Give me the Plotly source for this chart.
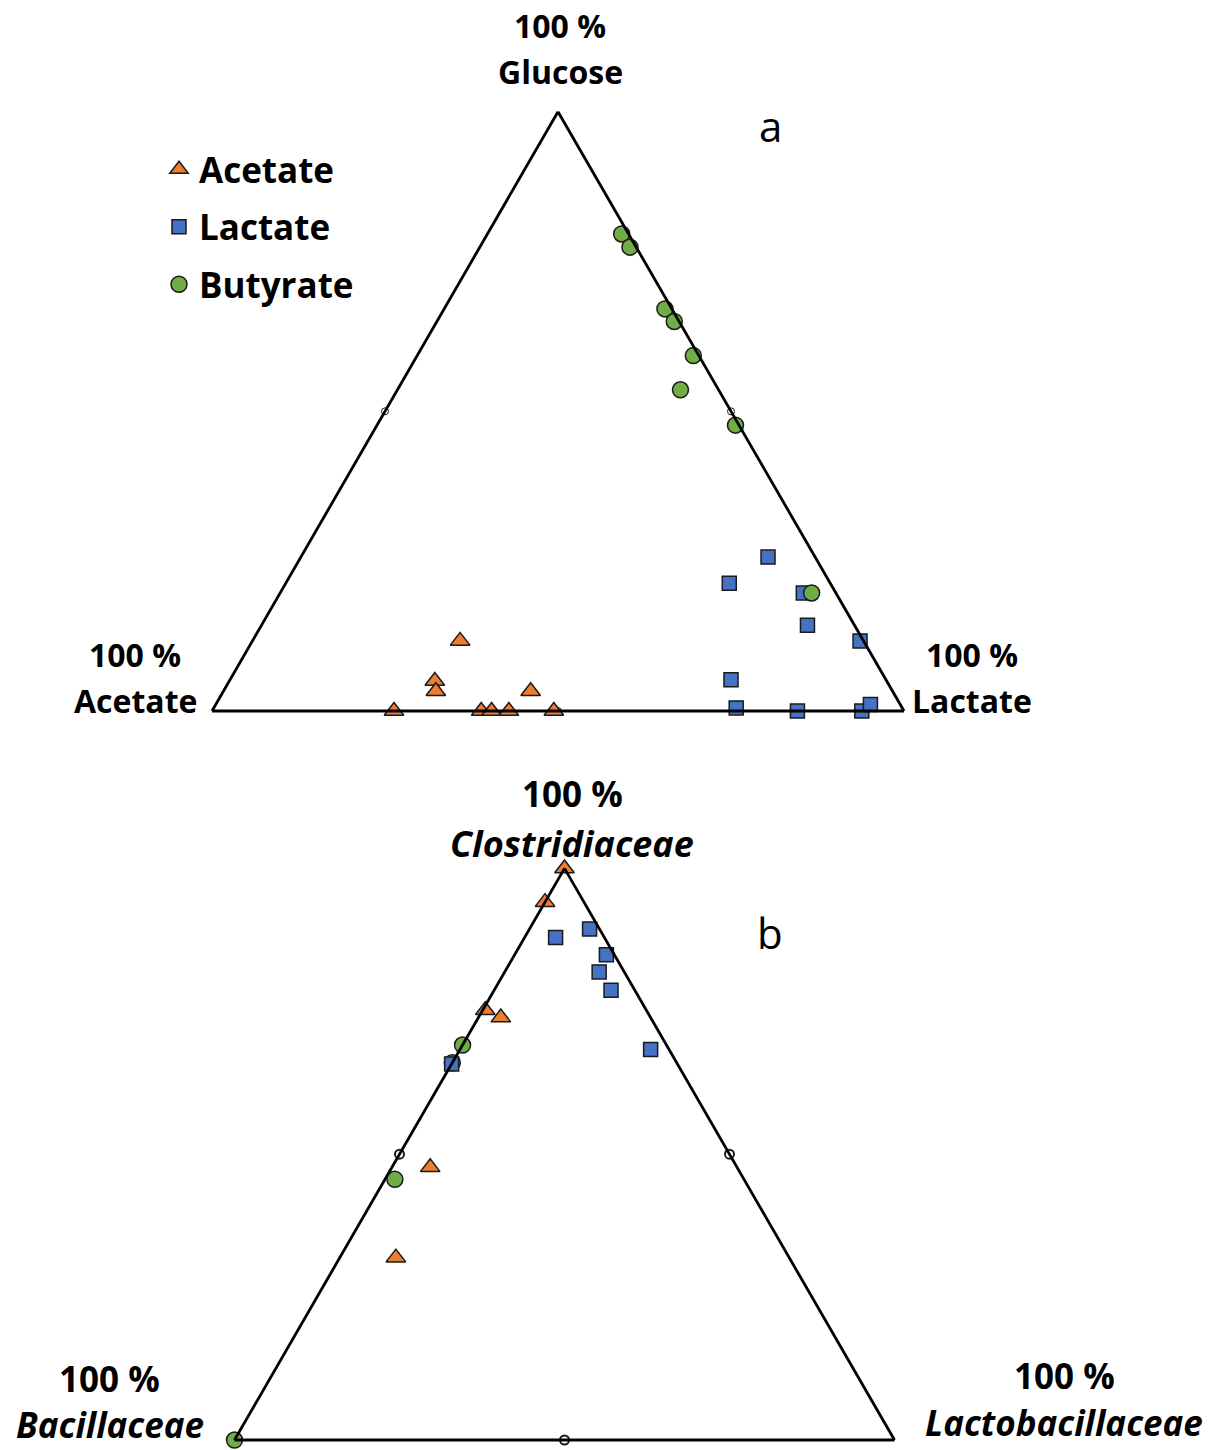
import plotly.graph_objects as go

# ---------------- Panel a (Glucose / Acetate / Lactate, %) ----------------
a_acetate_glucose = [11.7, 5.0, 3.3, 3.3, 0, 0, 0, 0, 0]
a_acetate_acetate = [58.3, 65.3, 66.0, 52.3, 73.7, 61.1, 59.6, 57.1, 50.6]
a_acetate_lactate = [30.0, 29.7, 30.7, 44.4, 26.3, 38.9, 40.4, 42.9, 49.4]

a_lactate_glucose = [25.7, 21.3, 19.7, 14.3, 11.7, 5.2, 0.5, 0, 0, 1.1]
a_lactate_acetate = [6.8, 14.6, 4.7, 6.8, 0.5, 22.4, 24.0, 15.4, 6.1, 4.3]
a_lactate_lactate = [67.5, 64.1, 75.6, 78.9, 87.8, 72.4, 75.5, 84.6, 93.9, 94.6]

a_butyrate_glucose = [79.6, 77.4, 67.1, 65.0, 59.3, 53.6, 47.7, 19.7]
a_butyrate_acetate = [1.0, 0.9, 1.0, 0.7, 0.8, 5.5, 0.5, 3.5]
a_butyrate_lactate = [19.4, 21.7, 31.9, 34.3, 39.9, 40.9, 51.8, 76.8]

# ---------- Panel b (Clostridiaceae / Bacillaceae / Lactobacillaceae, %) ----------
b_acetate_clos = [100, 94.1, 75.2, 73.9, 47.7, 31.9]
b_acetate_bac = [0, 5.9, 24.4, 22.7, 46.5, 59.6]
b_acetate_lacto = [0, 0, 0.4, 3.4, 5.8, 8.5]

b_lactate_clos = [87.9, 89.4, 84.9, 81.9, 78.7, 68.3, 65.8]
b_lactate_bac = [7.4, 1.5, 1.2, 3.8, 3.6, 2.8, 34.2]
b_lactate_lacto = [4.7, 9.1, 13.9, 14.3, 17.7, 28.9, 0.0]

b_butyrate_clos = [69.1, 66.0, 45.6, 0]
b_butyrate_bac = [30.9, 34.0, 52.9, 100]
b_butyrate_lacto = [0, 0, 1.5, 0]

# midpoint reference markers (50 % on each side)
mid_a = [50, 50, 0]
mid_b = [50, 0, 50]
mid_c = [0, 50, 50]

ORANGE = "#ED7D31"
BLUE = "#4472C4"
GREEN = "#70AD47"
LINE = dict(color="#1a1a1a", width=1.5)

W, H = 1217, 1450
FONT = "Open Sans"

fig = go.Figure()

def add(sub, a, b, c, name, symbol, color, size, show, group):
    fig.add_trace(go.Scatterternary(
        subplot=sub, a=a, b=b, c=c, mode="markers", name=name,
        legendgroup=group, showlegend=show, cliponaxis=False,
        marker=dict(symbol=symbol, color=color, size=size, line=LINE),
        hoverinfo="a+b+c+name"))

# panel a
fig.add_trace(go.Scatterternary(subplot="ternary", a=mid_a, b=mid_b, c=mid_c,
                                mode="markers", showlegend=False, cliponaxis=False,
                                marker=dict(symbol="circle", color="white", size=7,
                                            line=dict(color="#1a1a1a", width=1))))
add("ternary", a_acetate_glucose, a_acetate_acetate, a_acetate_lactate,
    "Acetate", "triangle-up", ORANGE, 17, True, "ac")
add("ternary", a_lactate_glucose, a_lactate_acetate, a_lactate_lactate,
    "Lactate", "square", BLUE, 14, True, "la")
add("ternary", a_butyrate_glucose, a_butyrate_acetate, a_butyrate_lactate,
    "Butyrate", "circle", GREEN, 16, True, "bu")

# panel b
add("ternary2", b_acetate_clos, b_acetate_bac, b_acetate_lacto,
    "Acetate", "triangle-up", ORANGE, 17, False, "ac")
add("ternary2", b_butyrate_clos, b_butyrate_bac, b_butyrate_lacto,
    "Butyrate", "circle", GREEN, 16, False, "bu")
add("ternary2", b_lactate_clos, b_lactate_bac, b_lactate_lacto,
    "Lactate", "square", BLUE, 14, False, "la")
fig.add_trace(go.Scatterternary(subplot="ternary2", a=mid_a, b=mid_b, c=mid_c,
                                mode="markers", showlegend=False, cliponaxis=False,
                                marker=dict(symbol="circle", color="white", size=9,
                                            line=dict(color="#1a1a1a", width=2))))

axis = dict(showline=True, linecolor="black", linewidth=2.8, showgrid=False,
            showticklabels=False, ticks="", min=0, title=dict(text=""))

def tern_domain(cx, base_y, side):
    h = side * 3 ** 0.5 / 2
    return dict(x=[(cx - side / 2) / W, (cx + side / 2) / W],
                y=[1 - base_y / H, 1 - (base_y - h) / H])

fig.update_layout(
    ternary=dict(domain=tern_domain(558, 711, 692), sum=100, bgcolor="white",
                 aaxis=axis, baxis=axis, caxis=axis),
    ternary2=dict(domain=tern_domain(564.5, 1440, 660), sum=100, bgcolor="white",
                  aaxis=axis, baxis=axis, caxis=axis),
    width=W, height=H,
    margin=dict(l=0, r=0, t=0, b=0),
    paper_bgcolor="white", plot_bgcolor="white",
    font=dict(family=FONT, color="black"),
    legend=dict(x=159 / W, y=1 - 140 / H, xanchor="left", yanchor="top",
                font=dict(family=FONT, size=35, color="black", weight="bold"),
                tracegroupgap=9, itemsizing="trace", bgcolor="rgba(0,0,0,0)"),
)

def label(text, px, py, size=32, bold=True, italic=False):
    t = text
    if italic:
        t = "<i>" + t + "</i>"
    if bold:
        t = "<b>" + t + "</b>"
    fig.add_annotation(text=t, x=px / W, y=1 - py / H, xref="paper", yref="paper",
                       xanchor="center", yanchor="middle", showarrow=False,
                       font=dict(family=FONT, size=size, color="black"))

# panel a labels
label("100 %", 560, 25)
label("Glucose", 560, 71)
label("100 %", 135, 654)
label("Acetate", 135, 700)
label("100 %", 972, 654)
label("Lactate", 972, 700)
label("a", 770, 125, size=42, bold=False)

# panel b labels
label("100 %", 572, 793, size=35)
label("Clostridiaceae", 572, 843, size=36, italic=True)
label("100 %", 110, 1378, size=35)
label("Bacillaceae", 110, 1424, size=35, italic=True)
label("100 %", 1064, 1375, size=35)
label("Lactobacillaceae", 1064, 1422, size=35, italic=True)
label("b", 770, 932, size=42, bold=False)

fig.write_html("out.html",
               config={"displayModeBar": False},
               post_script="document.body.style.margin='0';"
                           "document.body.style.overflow='hidden';")
